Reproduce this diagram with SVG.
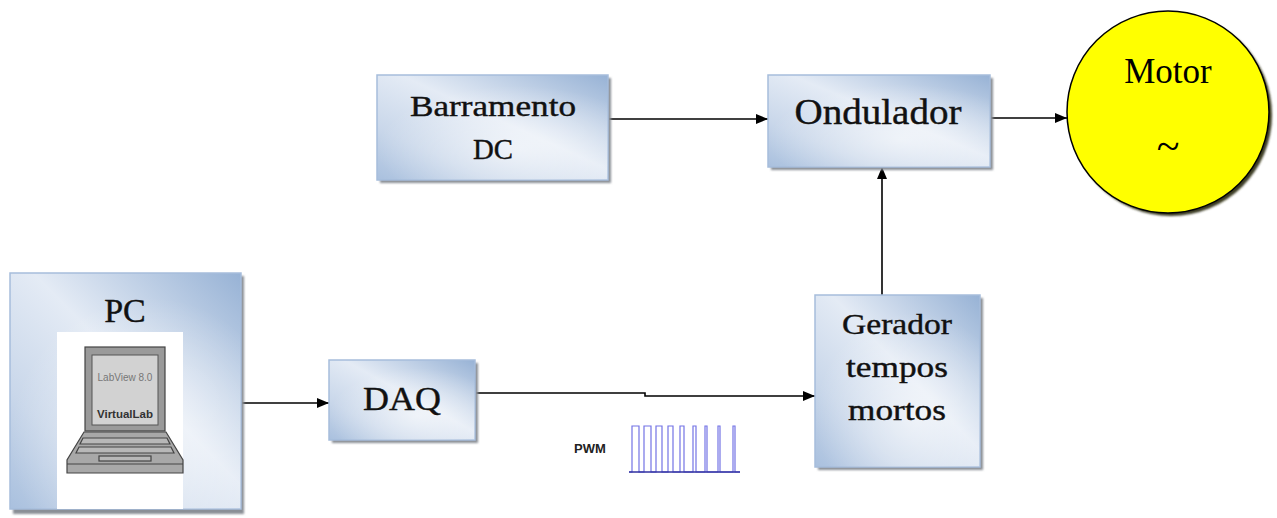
<svg xmlns="http://www.w3.org/2000/svg" width="1277" height="518" viewBox="0 0 1277 518">
  <defs>
    <linearGradient id="blockFill" x1="1" y1="0" x2="0" y2="1">
      <stop offset="0" stop-color="#97b2d5"/>
      <stop offset="0.45" stop-color="#e4ebf5"/>
      <stop offset="0.75" stop-color="#c9d7ea"/>
      <stop offset="1" stop-color="#a9c0de"/>
    </linearGradient>
    <radialGradient id="blockGlow" cx="0.6" cy="0.7" r="0.6">
      <stop offset="0" stop-color="#ffffff" stop-opacity="0.55"/>
      <stop offset="1" stop-color="#ffffff" stop-opacity="0"/>
    </radialGradient>
    <marker id="arrow" viewBox="0 0 12 10" refX="12" refY="5" markerWidth="12" markerHeight="10" markerUnits="userSpaceOnUse" orient="auto">
      <path d="M0,0 L12,5 L0,10 z" fill="#000"/>
    </marker>
    <filter id="soft" x="-5%" y="-5%" width="110%" height="110%">
      <feGaussianBlur stdDeviation="1"/>
    </filter>
  </defs>
  <style>
    .shadow { fill: #8a8f96; filter: url(#soft); }
    .block { fill: url(#blockFill); stroke: #a6bddb; stroke-width: 1.5; }
    .glow { fill: url(#blockGlow); }
    .label { font-family: "Liberation Serif", "DejaVu Serif", serif; fill: #111; stroke: #111; stroke-width: 0.4; text-anchor: middle; }
    .wire { fill: none; stroke: #000; stroke-width: 1.6; }
    .pulse { fill: none; stroke: #5a5ae0; stroke-width: 1.2; opacity: 0.85; }
    .key { fill: #b8b8b8; stroke: #444; stroke-width: 1.2; }
  </style>

  <rect width="1277" height="518" fill="#fff"/>

  <!-- connectors -->
  <g id="connectors">
    <line class="wire" x1="242" y1="403" x2="329" y2="403" marker-end="url(#arrow)"/>
    <path class="wire" d="M475,393 H645 V396 H815" marker-end="url(#arrow)"/>
    <line class="wire" x1="608" y1="119" x2="768" y2="119" marker-end="url(#arrow)"/>
    <line class="wire" x1="882" y1="295" x2="882" y2="167" marker-end="url(#arrow)"/>
    <line class="wire" x1="990" y1="118" x2="1067" y2="118" marker-end="url(#arrow)"/>
  </g>

  <!-- PC with laptop -->
  <g id="pc">
    <rect class="shadow" x="13" y="276" width="231" height="238"/>
    <rect class="block" x="10" y="273" width="231" height="236"/>
    <rect class="glow" x="10" y="273" width="231" height="236"/>
    <text class="label" x="125" y="322" font-size="34">PC</text>
    <rect x="57" y="332" width="126" height="177" fill="#fff"/>
    <!-- screen -->
    <rect x="85" y="347" width="80" height="84" fill="#9a9a9a" stroke="#444" stroke-width="1.2"/>
    <rect x="92" y="355" width="66" height="70" fill="#d2d2d2" stroke="#555" stroke-width="1"/>
    <text x="125" y="381" font-family="Liberation Sans, Arial, sans-serif" font-size="10" fill="#777" text-anchor="middle">LabView 8.0</text>
    <text x="125" y="418" font-family="Liberation Sans, Arial, sans-serif" font-size="11.5" font-weight="bold" fill="#333" text-anchor="middle">VirtualLab</text>
    <!-- keyboard base -->
    <path d="M84,432 H166 L183,460 V473 H67 V460 Z" fill="#a8a8a8" stroke="#444" stroke-width="1.2"/>
    <path class="key" d="M83,438 H167 L170,444 H80 Z"/>
    <path class="key" d="M79,447 H171 L174,453 H76 Z"/>
    <rect class="key" x="99" y="456" width="52" height="5"/>
    <line x1="67" y1="464" x2="183" y2="464" stroke="#444" stroke-width="1"/>
  </g>

  <!-- DAQ -->
  <g id="daq">
    <rect class="shadow" x="332" y="363" width="146" height="80"/>
    <rect class="block" x="329" y="360" width="146" height="80"/>
    <rect class="glow" x="329" y="360" width="146" height="80"/>
    <text class="label" x="402" y="410" font-size="34" textLength="78" lengthAdjust="spacingAndGlyphs">DAQ</text>
  </g>

  <!-- PWM waveform -->
  <g id="pwm">
    <text x="590" y="453" font-family="Liberation Sans, Arial, sans-serif" font-size="13" font-weight="bold" fill="#222" text-anchor="middle">PWM</text>
    <path class="pulse" d="M629,472 H632 V426 H639 V472 H644 V426 H651 V472 H656 V426 H662 V472 H668 V426 H673 V472 H680 V426 H684 V472 H693 V426 H696 V472 H705 V426 H707 V472 H718 V426 H720 V472 H733 V426 H735 V472 H740"/>
    <line x1="629" y1="472" x2="740" y2="472" stroke="#3030a0" stroke-width="1.5"/>
  </g>

  <!-- Barramento DC -->
  <g id="barramento">
    <rect class="shadow" x="380" y="78" width="231" height="105"/>
    <rect class="block" x="377" y="75" width="231" height="105"/>
    <rect class="glow" x="377" y="75" width="231" height="105"/>
    <text class="label" x="493" y="116" font-size="30" textLength="166" lengthAdjust="spacingAndGlyphs">Barramento</text>
    <text class="label" x="493" y="159" font-size="30" textLength="40" lengthAdjust="spacingAndGlyphs">DC</text>
  </g>

  <!-- Ondulador -->
  <g id="ondulador">
    <rect class="shadow" x="771" y="78" width="222" height="92"/>
    <rect class="block" x="768" y="75" width="222" height="92"/>
    <rect class="glow" x="768" y="75" width="222" height="92"/>
    <text class="label" x="878" y="124" font-size="36" textLength="167" lengthAdjust="spacingAndGlyphs">Ondulador</text>
  </g>

  <!-- Gerador tempos mortos -->
  <g id="gerador">
    <rect class="shadow" x="818" y="298" width="165" height="172"/>
    <rect class="block" x="815" y="295" width="165" height="172"/>
    <rect class="glow" x="815" y="295" width="165" height="172"/>
    <text class="label" x="897" y="334" font-size="30" textLength="110" lengthAdjust="spacingAndGlyphs">Gerador</text>
    <text class="label" x="897" y="377" font-size="30" textLength="102" lengthAdjust="spacingAndGlyphs">tempos</text>
    <text class="label" x="897" y="420" font-size="30" textLength="98" lengthAdjust="spacingAndGlyphs">mortos</text>
  </g>

  <!-- Motor -->
  <g id="motor">
    <circle cx="1171" cy="115" r="101" fill="#3a3a20" filter="url(#soft)"/>
    <circle cx="1168" cy="112" r="101" fill="#ffff00" stroke="#000" stroke-width="1.5"/>
    <text x="1168" y="83" font-family="Liberation Serif, Times New Roman, serif" font-size="35" fill="#000" text-anchor="middle">Motor</text>
    <text x="1168" y="160" font-family="Liberation Serif, Times New Roman, serif" font-size="42" fill="#000" text-anchor="middle">~</text>
  </g>
</svg>
